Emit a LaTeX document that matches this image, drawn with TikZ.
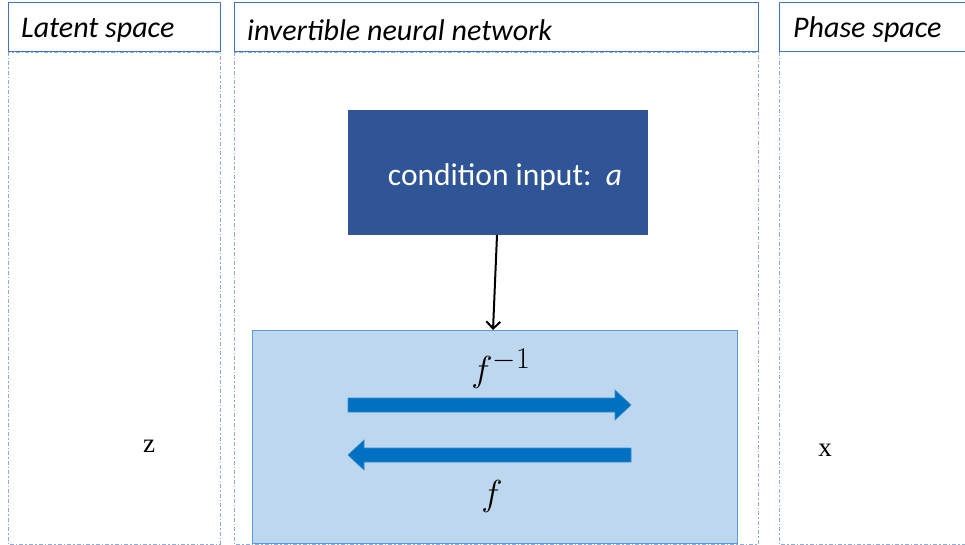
\documentclass[tikz,border=0pt]{standalone}
\usepackage{fontspec}
\usepackage{graphicx}
\setmainfont{Carlito}
\newfontfamily\serifx{Liberation Serif}
\usetikzlibrary{arrows.meta}
\definecolor{hdrblue}{HTML}{4472C4}
\definecolor{dashblue}{HTML}{8FAADC}
\definecolor{condblue}{HTML}{2F5597}
\definecolor{lightbox}{HTML}{BDD7EE}
\definecolor{lightborder}{HTML}{5B9BD5}
\definecolor{arrowblue}{HTML}{0070C0}
\tikzset{
  hdr/.style={draw=hdrblue, line width=1pt, fill=white},
  hdrtext/.style={anchor=west, font=\fontsize{30}{34}\selectfont\itshape, inner sep=0pt},
  col/.style={draw=dashblue, line width=0.9pt, dash pattern=on 4pt off 2pt on 1.5pt off 2pt},
  fatarrow/.style={fill=arrowblue, draw=arrowblue!80!white, line width=0.6pt},
  mathlbl/.style={inner sep=0pt}
}
\begin{document}
\begin{tikzpicture}[x=1pt,y=-1pt]
\useasboundingbox (0,0) rectangle (965,545);
% columns
\draw[col] (8,52) rectangle (220,544);
\draw[col] (234,52) rectangle (758,544);
\draw[col] (779,52) -- (779,544) -- (966,544);
% headers
\draw[hdr] (8,3) rectangle (220,52);
\node[hdrtext] (h1) at (21,30) {Latent space};
\draw[hdr] (234,3) rectangle (758,52);
\node[hdrtext] (h2) at (247,30) {invertible neural network};
\draw[hdr] (779,3) rectangle (970,52);
\node[hdrtext] (h3) at (793,30) {Phase space};
% condition box
\node[fill=condblue, minimum width=300pt, minimum height=125pt, inner sep=0pt, anchor=north west] (cond) at (348,110) {};
\node[text=white, font=\fontsize{31.5}{36}\selectfont, anchor=center] (condt) at (505,177) {condition input:\ \ $\mathit{a}$};
% network box
\node[fill=lightbox, draw=lightborder, line width=1.2pt, minimum width=485pt, minimum height=213pt, inner sep=0pt, anchor=north west] (net) at (252,330) {};
\coordinate (ctop) at (497,235);
\coordinate (ntop) at (493,330);
\draw[line width=2pt, -{Straight Barb[length=7pt,width=14pt]}] (ctop) -- (ntop);
% fat arrows
\draw[fatarrow] (348,398) -- (615,398) -- (615,390) -- (631,405) -- (615,420) -- (615,412) -- (348,412) -- cycle;
\draw[fatarrow] (631,448) -- (364,448) -- (364,440) -- (348,455) -- (364,470) -- (364,462) -- (631,462) -- cycle;
\node[mathlbl] (finv) at (501,369) {\scalebox{1.45}{\fontsize{24.88}{28}\selectfont$f^{-1}$}};
\node[mathlbl] (f) at (492,496) {\scalebox{1.45}{\fontsize{24.88}{28}\selectfont$f$}};
% labels
\node[font=\serifx\fontsize{27}{30}\selectfont] (z) at (149,446) {z};
\node[font=\serifx\fontsize{27}{30}\selectfont] (x) at (825,450) {x};
\end{tikzpicture}
\end{document}
